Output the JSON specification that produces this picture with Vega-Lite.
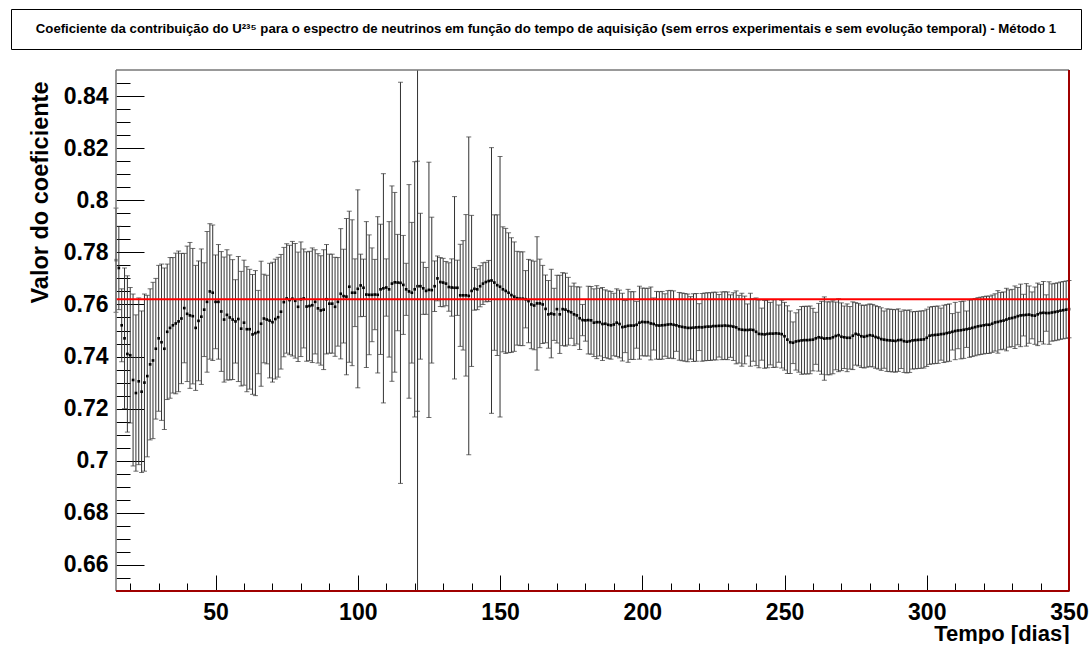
{
"$schema": "https://vega.github.io/schema/vega-lite/v6.json",
"padding": {"left": 10, "top": 8, "right": 5, "bottom": 0},
"background": "white",
"config": {"font": "Liberation Sans", "view": {"stroke": null}},
"datasets": {
"ttl": [{"t": "Coeficiente da contribuição do U²³⁵ para o espectro de neutrinos em função do tempo de aquisição (sem erros experimentais e sem evolução temporal) - Método 1"}],
"href": [{"y": 0.762}],
"vref": [{"x": 121}],
"frame": [{"x0": 15, "x1": 350, "y0": 0.65, "y1": 0.85}],
"pts": [
{"d":15,"v":0.777,"e":0.02},{"d":16,"v":0.774,"e":0.016},{"d":17,"v":0.752,"e":0.014},{"d":18,"v":0.747,"e":0.027},{"d":19,"v":0.741,"e":0.03},{"d":20,"v":0.7405,"e":0.026},{"d":21,"v":0.731,"e":0.033},{"d":22,"v":0.726,"e":0.03},{"d":23,"v":0.7305,"e":0.032},{"d":24,"v":0.7265,"e":0.031},{"d":25,"v":0.73,"e":0.034},{"d":26,"v":0.7325,"e":0.031},{"d":27,"v":0.737,"e":0.029},{"d":28,"v":0.7385,"e":0.03},{"d":29,"v":0.743,"e":0.027},{"d":30,"v":0.747,"e":0.028},{"d":31,"v":0.7455,"e":0.03},{"d":32,"v":0.743,"e":0.031},{"d":33,"v":0.7495,"e":0.026},{"d":34,"v":0.751,"e":0.027},{"d":35,"v":0.752,"e":0.026},{"d":36,"v":0.7527,"e":0.027},{"d":37,"v":0.7535,"e":0.027},{"d":38,"v":0.7546,"e":0.025},{"d":39,"v":0.7586,"e":0.021},{"d":40,"v":0.7564,"e":0.026},{"d":41,"v":0.7558,"e":0.028},{"d":42,"v":0.7555,"e":0.026},{"d":43,"v":0.751,"e":0.024},{"d":44,"v":0.7537,"e":0.023},{"d":45,"v":0.7553,"e":0.026},{"d":46,"v":0.758,"e":0.018},{"d":47,"v":0.761,"e":0.027},{"d":48,"v":0.765,"e":0.026},{"d":49,"v":0.7645,"e":0.026},{"d":50,"v":0.761,"e":0.018},
{"d":51,"v":0.761,"e":0.022},{"d":52,"v":0.7573,"e":0.023},{"d":53,"v":0.7542,"e":0.024},{"d":54,"v":0.756,"e":0.025},{"d":55,"v":0.755,"e":0.024},{"d":56,"v":0.7542,"e":0.023},{"d":57,"v":0.7535,"e":0.016},{"d":58,"v":0.7544,"e":0.024},{"d":59,"v":0.7507,"e":0.022},{"d":60,"v":0.753,"e":0.024},{"d":61,"v":0.7505,"e":0.024},{"d":62,"v":0.7505,"e":0.023},{"d":63,"v":0.7485,"e":0.023},{"d":64,"v":0.749,"e":0.024},{"d":65,"v":0.7494,"e":0.016},{"d":66,"v":0.7526,"e":0.024},{"d":67,"v":0.7546,"e":0.017},{"d":68,"v":0.7542,"e":0.017},{"d":69,"v":0.7538,"e":0.022},{"d":70,"v":0.7532,"e":0.023},{"d":71,"v":0.7544,"e":0.023},{"d":72,"v":0.7551,"e":0.023},{"d":73,"v":0.7572,"e":0.022},{"d":74,"v":0.7609,"e":0.021},{"d":75,"v":0.7623,"e":0.021},{"d":76,"v":0.7617,"e":0.021},{"d":77,"v":0.7622,"e":0.022},{"d":78,"v":0.7614,"e":0.022},{"d":79,"v":0.7591,"e":0.021},{"d":80,"v":0.762,"e":0.022},{"d":81,"v":0.7623,"e":0.019},{"d":82,"v":0.7592,"e":0.021},{"d":83,"v":0.7594,"e":0.021},{"d":84,"v":0.7597,"e":0.022},{"d":85,"v":0.761,"e":0.02},{"d":86,"v":0.7585,"e":0.021},{"d":87,"v":0.7577,"e":0.021},{"d":88,"v":0.758,"e":0.023},{"d":89,"v":0.762,"e":0.021},{"d":90,"v":0.7603,"e":0.019},{"d":91,"v":0.7603,"e":0.019},{"d":92,"v":0.7591,"e":0.019},{"d":93,"v":0.761,"e":0.017},{"d":94,"v":0.7641,"e":0.025},{"d":95,"v":0.7632,"e":0.018},{"d":96,"v":0.763,"e":0.03},{"d":97,"v":0.7668,"e":0.029},{"d":98,"v":0.7645,"e":0.028},{"d":99,"v":0.7645,"e":0.013},{"d":100,"v":0.766,"e":0.038},
{"d":101,"v":0.7673,"e":0.012},{"d":102,"v":0.7664,"e":0.011},{"d":103,"v":0.7638,"e":0.028},{"d":104,"v":0.7637,"e":0.023},{"d":105,"v":0.7637,"e":0.018},{"d":106,"v":0.7638,"e":0.0135},{"d":107,"v":0.7637,"e":0.03},{"d":108,"v":0.7658,"e":0.025},{"d":109,"v":0.7662,"e":0.044},{"d":110,"v":0.7665,"e":0.011},{"d":111,"v":0.7658,"e":0.026},{"d":112,"v":0.768,"e":0.0375},{"d":113,"v":0.7685,"e":0.0345},{"d":114,"v":0.7684,"e":0.0185},{"d":115,"v":0.7683,"e":0.077},{"d":116,"v":0.7675,"e":0.019},{"d":117,"v":0.7658,"e":0.01},{"d":118,"v":0.765,"e":0.041},{"d":119,"v":0.7645,"e":0.027},{"d":120,"v":0.7658,"e":0.049},{"d":121,"v":0.767,"e":0.048},{"d":122,"v":0.767,"e":0.028},{"d":123,"v":0.7662,"e":0.01},{"d":124,"v":0.7652,"e":0.009},{"d":125,"v":0.7656,"e":0.049},{"d":126,"v":0.7655,"e":0.028},{"d":127,"v":0.767,"e":0.0097},{"d":128,"v":0.77,"e":0.0086},{"d":129,"v":0.7686,"e":0.0094},{"d":130,"v":0.7684,"e":0.0093},{"d":131,"v":0.768,"e":0.0085},{"d":132,"v":0.7667,"e":0.0093},{"d":133,"v":0.7665,"e":0.011},{"d":134,"v":0.7664,"e":0.035},{"d":135,"v":0.7664,"e":0.0106},{"d":136,"v":0.7635,"e":0.0196},{"d":137,"v":0.7635,"e":0.021},{"d":138,"v":0.7635,"e":0.031},{"d":139,"v":0.7633,"e":0.061},{"d":140,"v":0.7652,"e":0.029},{"d":141,"v":0.766,"e":0.0082},{"d":142,"v":0.7658,"e":0.0078},{"d":143,"v":0.767,"e":0.0079},{"d":144,"v":0.768,"e":0.008},{"d":145,"v":0.7686,"e":0.0076},{"d":146,"v":0.769,"e":0.0079},{"d":147,"v":0.7692,"e":0.051},{"d":148,"v":0.7684,"e":0.026},{"d":149,"v":0.7674,"e":0.027},{"d":150,"v":0.7668,"e":0.05},
{"d":151,"v":0.7658,"e":0.024},{"d":152,"v":0.7652,"e":0.024},{"d":153,"v":0.7645,"e":0.023},{"d":154,"v":0.7636,"e":0.022},{"d":155,"v":0.763,"e":0.021},{"d":156,"v":0.7624,"e":0.018},{"d":157,"v":0.7622,"e":0.018},{"d":158,"v":0.7622,"e":0.018},{"d":159,"v":0.762,"e":0.011},{"d":160,"v":0.7613,"e":0.016},{"d":161,"v":0.76,"e":0.017},{"d":162,"v":0.7596,"e":0.017},{"d":163,"v":0.7604,"e":0.0256},{"d":164,"v":0.7604,"e":0.017},{"d":165,"v":0.76,"e":0.015},{"d":166,"v":0.7583,"e":0.013},{"d":167,"v":0.7562,"e":0.013},{"d":168,"v":0.7565,"e":0.017},{"d":169,"v":0.7562,"e":0.01},{"d":170,"v":0.7582,"e":0.013},{"d":171,"v":0.7562,"e":0.015},{"d":172,"v":0.7582,"e":0.014},{"d":173,"v":0.758,"e":0.014},{"d":174,"v":0.7574,"e":0.013},{"d":175,"v":0.757,"e":0.01},{"d":176,"v":0.7562,"e":0.012},{"d":177,"v":0.7558,"e":0.011},{"d":178,"v":0.7547,"e":0.012},{"d":179,"v":0.754,"e":0.006},{"d":180,"v":0.7539,"e":0.008},{"d":181,"v":0.754,"e":0.013},{"d":182,"v":0.7539,"e":0.013},{"d":183,"v":0.753,"e":0.013},{"d":184,"v":0.7532,"e":0.014},{"d":185,"v":0.7532,"e":0.013},{"d":186,"v":0.7525,"e":0.014},{"d":187,"v":0.7526,"e":0.013},{"d":188,"v":0.7522,"e":0.013},{"d":189,"v":0.752,"e":0.013},{"d":190,"v":0.7523,"e":0.012},{"d":191,"v":0.753,"e":0.013},{"d":192,"v":0.7525,"e":0.013},{"d":193,"v":0.7513,"e":0.013},{"d":194,"v":0.7515,"e":0.01},{"d":195,"v":0.7518,"e":0.014},{"d":196,"v":0.7519,"e":0.013},{"d":197,"v":0.7519,"e":0.013},{"d":198,"v":0.7522,"e":0.009},{"d":199,"v":0.753,"e":0.014},{"d":200,"v":0.7533,"e":0.013},
{"d":201,"v":0.7532,"e":0.013},{"d":202,"v":0.7532,"e":0.013},{"d":203,"v":0.7527,"e":0.014},{"d":204,"v":0.7525,"e":0.01},{"d":205,"v":0.752,"e":0.013},{"d":206,"v":0.7519,"e":0.013},{"d":207,"v":0.752,"e":0.013},{"d":208,"v":0.7521,"e":0.012},{"d":209,"v":0.7523,"e":0.013},{"d":210,"v":0.7524,"e":0.013},{"d":211,"v":0.7522,"e":0.013},{"d":212,"v":0.752,"e":0.01},{"d":213,"v":0.7516,"e":0.013},{"d":214,"v":0.7514,"e":0.013},{"d":215,"v":0.7512,"e":0.013},{"d":216,"v":0.751,"e":0.013},{"d":217,"v":0.751,"e":0.012},{"d":218,"v":0.7511,"e":0.013},{"d":219,"v":0.7512,"e":0.013},{"d":220,"v":0.7513,"e":0.009},{"d":221,"v":0.7512,"e":0.013},{"d":222,"v":0.7514,"e":0.013},{"d":223,"v":0.7515,"e":0.013},{"d":224,"v":0.7515,"e":0.013},{"d":225,"v":0.7517,"e":0.013},{"d":226,"v":0.7517,"e":0.013},{"d":227,"v":0.7518,"e":0.012},{"d":228,"v":0.7518,"e":0.013},{"d":229,"v":0.7519,"e":0.013},{"d":230,"v":0.7518,"e":0.013},{"d":231,"v":0.7517,"e":0.012},{"d":232,"v":0.7515,"e":0.013},{"d":233,"v":0.7512,"e":0.014},{"d":234,"v":0.7505,"e":0.013},{"d":235,"v":0.7503,"e":0.014},{"d":236,"v":0.7502,"e":0.013},{"d":237,"v":0.7502,"e":0.01},{"d":238,"v":0.7503,"e":0.014},{"d":239,"v":0.7502,"e":0.012},{"d":240,"v":0.7495,"e":0.013},{"d":241,"v":0.7487,"e":0.013},{"d":242,"v":0.7486,"e":0.01},{"d":243,"v":0.7485,"e":0.013},{"d":244,"v":0.7487,"e":0.013},{"d":245,"v":0.7488,"e":0.012},{"d":246,"v":0.7488,"e":0.013},{"d":247,"v":0.7489,"e":0.013},{"d":248,"v":0.7488,"e":0.011},{"d":249,"v":0.7486,"e":0.013},{"d":250,"v":0.7478,"e":0.013},
{"d":251,"v":0.7465,"e":0.013},{"d":252,"v":0.7455,"e":0.012},{"d":253,"v":0.7453,"e":0.008},{"d":254,"v":0.7458,"e":0.011},{"d":255,"v":0.746,"e":0.012},{"d":256,"v":0.7462,"e":0.013},{"d":257,"v":0.7463,"e":0.013},{"d":258,"v":0.7463,"e":0.013},{"d":259,"v":0.7464,"e":0.013},{"d":260,"v":0.7465,"e":0.012},{"d":261,"v":0.747,"e":0.01},{"d":262,"v":0.7474,"e":0.013},{"d":263,"v":0.7472,"e":0.014},{"d":264,"v":0.7469,"e":0.016},{"d":265,"v":0.747,"e":0.014},{"d":266,"v":0.747,"e":0.014},{"d":267,"v":0.7474,"e":0.014},{"d":268,"v":0.7479,"e":0.013},{"d":269,"v":0.7482,"e":0.014},{"d":270,"v":0.7476,"e":0.013},{"d":271,"v":0.7474,"e":0.012},{"d":272,"v":0.7472,"e":0.013},{"d":273,"v":0.7472,"e":0.012},{"d":274,"v":0.748,"e":0.013},{"d":275,"v":0.7487,"e":0.012},{"d":276,"v":0.7484,"e":0.012},{"d":277,"v":0.7478,"e":0.012},{"d":278,"v":0.7476,"e":0.012},{"d":279,"v":0.7479,"e":0.012},{"d":280,"v":0.7482,"e":0.012},{"d":281,"v":0.748,"e":0.012},{"d":282,"v":0.7475,"e":0.012},{"d":283,"v":0.7472,"e":0.012},{"d":284,"v":0.7467,"e":0.012},{"d":285,"v":0.7465,"e":0.011},{"d":286,"v":0.7463,"e":0.012},{"d":287,"v":0.7462,"e":0.012},{"d":288,"v":0.7461,"e":0.012},{"d":289,"v":0.746,"e":0.012},{"d":290,"v":0.7463,"e":0.012},{"d":291,"v":0.7464,"e":0.011},{"d":292,"v":0.7459,"e":0.012},{"d":293,"v":0.7457,"e":0.012},{"d":294,"v":0.7459,"e":0.012},{"d":295,"v":0.7462,"e":0.011},{"d":296,"v":0.7463,"e":0.011},{"d":297,"v":0.7464,"e":0.011},{"d":298,"v":0.7465,"e":0.011},{"d":299,"v":0.7466,"e":0.011},{"d":300,"v":0.7472,"e":0.011},
{"d":301,"v":0.748,"e":0.011},{"d":302,"v":0.7482,"e":0.011},{"d":303,"v":0.7483,"e":0.011},{"d":304,"v":0.7484,"e":0.011},{"d":305,"v":0.7486,"e":0.01},{"d":306,"v":0.7487,"e":0.011},{"d":307,"v":0.749,"e":0.011},{"d":308,"v":0.7492,"e":0.011},{"d":309,"v":0.7495,"e":0.007},{"d":310,"v":0.7498,"e":0.011},{"d":311,"v":0.75,"e":0.007},{"d":312,"v":0.7501,"e":0.011},{"d":313,"v":0.7503,"e":0.011},{"d":314,"v":0.7505,"e":0.007},{"d":315,"v":0.7507,"e":0.011},{"d":316,"v":0.751,"e":0.011},{"d":317,"v":0.7513,"e":0.011},{"d":318,"v":0.7516,"e":0.011},{"d":319,"v":0.7518,"e":0.011},{"d":320,"v":0.752,"e":0.011},{"d":321,"v":0.7522,"e":0.011},{"d":322,"v":0.7522,"e":0.011},{"d":323,"v":0.7526,"e":0.011},{"d":324,"v":0.7531,"e":0.011},{"d":325,"v":0.7533,"e":0.012},{"d":326,"v":0.7536,"e":0.011},{"d":327,"v":0.7538,"e":0.011},{"d":328,"v":0.7542,"e":0.012},{"d":329,"v":0.7546,"e":0.011},{"d":330,"v":0.7548,"e":0.011},{"d":331,"v":0.7551,"e":0.012},{"d":332,"v":0.7555,"e":0.011},{"d":333,"v":0.7558,"e":0.012},{"d":334,"v":0.7559,"e":0.008},{"d":335,"v":0.756,"e":0.012},{"d":336,"v":0.7561,"e":0.011},{"d":337,"v":0.7558,"e":0.009},{"d":338,"v":0.7557,"e":0.011},{"d":339,"v":0.7562,"e":0.012},{"d":340,"v":0.7567,"e":0.011},{"d":341,"v":0.7568,"e":0.012},{"d":342,"v":0.7567,"e":0.007},{"d":343,"v":0.7567,"e":0.012},{"d":344,"v":0.7569,"e":0.011},{"d":345,"v":0.7571,"e":0.011},{"d":346,"v":0.7573,"e":0.011},{"d":347,"v":0.7576,"e":0.011},{"d":348,"v":0.7578,"e":0.011},{"d":349,"v":0.758,"e":0.011},{"d":350,"v":0.7582,"e":0.011}
]
},
"columns": 1,
"spacing": 19,
"concat": [
{
"width": 1070,
"height": 40,
"view": {"stroke": "black", "strokeWidth": 1},
"data": {"name": "ttl"},
"mark": {"type": "text", "font": "Liberation Sans", "fontWeight": "bold", "fontSize": 13.2, "color": "black"},
"encoding": {"text": {"field": "t"}}
},
{
"width": 1058,
"height": 521,
"view": {"stroke": null},
"layer": [
{
"data": {"name": "pts"},
"mark": {"type": "errorbar", "ticks": {"size": 5}, "color": "#333", "thickness": 1},
"encoding": {
"x": {"field": "d", "type": "quantitative", "scale": {"domain": [15, 350], "range": [105, 1058], "nice": false, "zero": false},
"axis": {"title": "Tempo [dias]", "titleFont": "Liberation Sans", "titleFontSize": 22, "titleFontWeight": "bold", "titleColor": "black", "titleAnchor": "end", "titleAlign": "right", "titleBaseline": "alphabetic", "titleY": 49,
"values": [20,30,40,50,60,70,80,90,100,110,120,130,140,150,160,170,180,190,200,210,220,230,240,250,260,270,280,290,300,310,320,330,340,350],
"tickCount": 200,
"labelExpr": "datum.value % 50 === 0 ? toString(datum.value) : ''",
"labelFont": "Liberation Sans", "labelFontSize": 23, "labelFontWeight": "bold", "labelColor": "black", "labelPadding": 26, "labelFlush": false, "labelOverlap": false, "labelBound": false,
"tickSize": {"condition": {"test": "datum.value % 50 === 0", "value": -16}, "value": -8},
"tickColor": "black", "domain": false, "grid": false}},
"y": {"field": "v", "type": "quantitative", "scale": {"domain": [0.65, 0.85], "nice": false, "zero": false},
"axis": {"title": "Valor do coeficiente", "titleFont": "Liberation Sans", "titleFontSize": 23.5, "titleFontWeight": "bold", "titleColor": "black", "titleAnchor": "end", "titleAngle": -90, "titleAlign": "right", "titleBaseline": "bottom", "titleX": -64, "titleY": 11,
"offset": -105,
"values": [0.655,0.66,0.665,0.67,0.675,0.68,0.685,0.69,0.695,0.7,0.705,0.71,0.715,0.72,0.725,0.73,0.735,0.74,0.745,0.75,0.755,0.76,0.765,0.77,0.775,0.78,0.785,0.79,0.795,0.8,0.805,0.81,0.815,0.82,0.825,0.83,0.835,0.84,0.845],
"tickCount": 200,
"labelExpr": "abs(datum.value*50 - round(datum.value*50)) < 0.001 ? format(datum.value, '.2~f') : ''",
"labelFont": "Liberation Sans", "labelFontSize": 23, "labelFontWeight": "bold", "labelColor": "black", "labelPadding": 36, "labelFlush": false, "labelOverlap": false, "labelBound": false,
"tickSize": {"condition": {"test": "abs(datum.value*50 - round(datum.value*50)) < 0.001", "value": -28}, "value": -14},
"tickColor": "black", "domain": false, "grid": false, "minExtent": 0}},
"yError": {"field": "e"}
}
},
{
"data": {"name": "pts"},
"mark": {"type": "square", "size": 7, "color": "black", "filled": true, "opacity": 1},
"encoding": {"x": {"field": "d", "type": "quantitative"}, "y": {"field": "v", "type": "quantitative"}}
},
{
"data": {"name": "vref"},
"mark": {"type": "rule", "color": "#333", "strokeWidth": 1},
"encoding": {"x": {"field": "x", "type": "quantitative"}}
},
{
"data": {"name": "href"},
"mark": {"type": "rule", "color": "#ff0000", "strokeWidth": 2},
"encoding": {"y": {"field": "y", "type": "quantitative"}, "x": {"datum": 15}, "x2": {"datum": 350}}
},
{
"data": {"name": "frame"},
"mark": {"type": "rule", "color": "#777", "strokeWidth": 1.5},
"encoding": {"x": {"field": "x0", "type": "quantitative"}, "y": {"field": "y0", "type": "quantitative"}, "y2": {"field": "y1"}}
},
{
"data": {"name": "frame"},
"mark": {"type": "rule", "color": "#777", "strokeWidth": 1.5},
"encoding": {"y": {"field": "y1", "type": "quantitative"}, "x": {"field": "x0", "type": "quantitative"}, "x2": {"field": "x1"}}
},
{
"data": {"name": "frame"},
"mark": {"type": "rule", "color": "#a00000", "strokeWidth": 2},
"encoding": {"x": {"field": "x1", "type": "quantitative"}, "y": {"field": "y0", "type": "quantitative"}, "y2": {"field": "y1"}}
},
{
"data": {"name": "frame"},
"mark": {"type": "rule", "color": "#a00000", "strokeWidth": 2},
"encoding": {"y": {"field": "y0", "type": "quantitative"}, "x": {"field": "x0", "type": "quantitative"}, "x2": {"field": "x1"}}
}
]
}
]
}
